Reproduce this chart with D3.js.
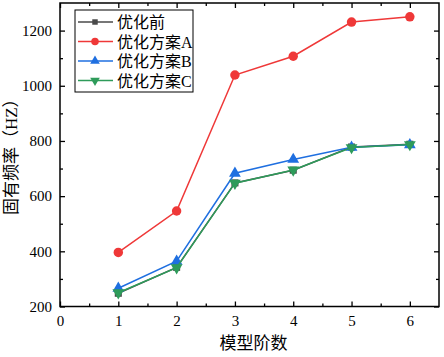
<!DOCTYPE html>
<html>
<head>
<meta charset="utf-8">
<script src="https://cdn.jsdelivr.net/npm/d3@7"></script>
<style>
  body { margin: 0; background: #fff; }
  text { font-family: "Liberation Serif", "Noto Sans CJK SC", serif; }
</style>
</head>
<body>
<div id="chart"></div>
<script>
// data
var orders = [1, 2, 3, 4, 5, 6];
var seriesNames = ["优化前", "优化方案A", "优化方案B", "优化方案C"];
var before = [248, 342, 648, 694, 778, 788];
var planA = [396, 546, 1039, 1107, 1231, 1250];
var planB = [266, 364, 683, 733, 777, 786];
var planC = [250, 341, 647, 695, 776, 787];
var xTicks = [0, 1, 2, 3, 4, 5, 6];
var yTicks = [200, 400, 600, 800, 1000, 1200];

var colors = ["#4a4a4a", "#ef3838", "#1f6fe0", "#2e9b5a"];
var symbols = [d3.symbolSquare, d3.symbolCircle, d3.symbolTriangle, d3.symbolTriangle];

var width = 444, height = 357;
var margin = {top: 3, right: 5, bottom: 50.5, left: 60};
var plot_w = width - margin.left - margin.right;
var plot_h = height - margin.top - margin.bottom;

var svg = d3.select("#chart")
            .append("svg")
              .attr("width", width)
              .attr("height", height)
            .append("g")
              .attr("transform", "translate(" + margin.left + "," + margin.top + ")");

var x_scale = d3.scaleLinear().domain([0, 6.5]).range([0, plot_w]);
var y_scale = d3.scaleLinear().domain([200, 1300]).range([plot_h, 0]);

// minor ticks
var xMinor = d3.range(0.5, 6.5, 1);
var yMinor = d3.range(300, 1300, 200);

function styleAxis(g) {
  g.select(".domain").remove();
  g.selectAll("line").attr("stroke", "#000").attr("stroke-width", 1.3);
  g.selectAll("text").attr("font-size", "15px").attr("fill", "#000");
}

// bottom axis, ticks inside
svg.append("g")
    .attr("transform", "translate(0," + plot_h + ")")
    .call(d3.axisBottom(x_scale).tickValues(xTicks).tickSize(-5).tickPadding(9).tickFormat(d3.format("d")))
    .call(styleAxis);
svg.append("g")
    .attr("transform", "translate(0," + plot_h + ")")
    .call(d3.axisBottom(x_scale).tickValues(xMinor).tickSize(-3).tickFormat(""))
    .call(styleAxis);

// top axis
svg.append("g")
    .call(d3.axisTop(x_scale).tickValues(xTicks).tickSize(-5).tickFormat(""))
    .call(styleAxis);
svg.append("g")
    .call(d3.axisTop(x_scale).tickValues(xMinor).tickSize(-3).tickFormat(""))
    .call(styleAxis);

// left axis
svg.append("g")
    .call(d3.axisLeft(y_scale).tickValues(yTicks).tickSize(-5).tickPadding(8).tickFormat(d3.format("d")))
    .call(styleAxis);
svg.append("g")
    .call(d3.axisLeft(y_scale).tickValues(yMinor).tickSize(-3).tickFormat(""))
    .call(styleAxis);

// right axis
svg.append("g")
    .attr("transform", "translate(" + plot_w + ",0)")
    .call(d3.axisRight(y_scale).tickValues(yTicks).tickSize(-5).tickFormat(""))
    .call(styleAxis);
svg.append("g")
    .attr("transform", "translate(" + plot_w + ",0)")
    .call(d3.axisRight(y_scale).tickValues(yMinor).tickSize(-3).tickFormat(""))
    .call(styleAxis);

// frame
svg.append("rect")
    .attr("width", plot_w)
    .attr("height", plot_h)
    .attr("fill", "none")
    .attr("stroke", "#000")
    .attr("stroke-width", 1.5);

var allSeries = [before, planA, planB, planC];

var line = d3.line()
    .x(function(d, i) { return x_scale(orders[i]); })
    .y(function(d) { return y_scale(d); });

function markerPath(k, size) {
  return d3.symbol().type(symbols[k]).size(size)();
}
var sizes = [50, 70, 60, 60];
var legendSizes = [30, 45, 40, 40];

allSeries.forEach(function(values, k) {
  svg.append("path")
      .datum(values)
      .attr("d", line)
      .attr("fill", "none")
      .attr("stroke", colors[k])
      .attr("stroke-width", 1.5);

  svg.selectAll(".m" + k)
      .data(values)
      .enter()
      .append("path")
        .attr("class", "m" + k)
        .attr("d", markerPath(k, sizes[k]))
        .attr("fill", colors[k])
        .attr("transform", function(d, i) {
          var rot = k == 3 ? " rotate(180)" : "";
          return "translate(" + x_scale(orders[i]) + "," + y_scale(d) + ")" + rot;
        });
});

// legend
var legend = svg.append("g")
    .attr("transform", "translate(" + 15 + "," + 7 + ")");

legend.append("rect")
    .attr("width", 118)
    .attr("height", 82)
    .attr("fill", "#fff")
    .attr("stroke", "#000")
    .attr("stroke-width", 1);

seriesNames.forEach(function(name, k) {
  var ly = 12 + k * 19.5;
  legend.append("line")
      .attr("x1", 3).attr("x2", 38)
      .attr("y1", ly).attr("y2", ly)
      .attr("stroke", colors[k])
      .attr("stroke-width", 1.5);
  legend.append("path")
      .attr("d", markerPath(k, legendSizes[k]))
      .attr("fill", colors[k])
      .attr("transform", "translate(20," + ly + ")" + (k == 3 ? " rotate(180)" : ""));
  legend.append("text")
      .attr("x", 42)
      .attr("y", ly + 6)
      .attr("font-size", "16px")
      .attr("fill", "#000")
      .text(name);
});

// axis titles
svg.append("text")
    .attr("x", plot_w / 2 + 4)
    .attr("y", plot_h + 42)
    .attr("text-anchor", "middle")
    .attr("font-size", "17px")
    .text("模型阶数");

svg.append("text")
    .attr("transform", "rotate(-90)")
    .attr("x", -(plot_h / 2) + 2)
    .attr("y", -43)
    .attr("text-anchor", "middle")
    .attr("font-size", "17px")
    .text("固有频率（HZ）");
</script>
</body>
</html>
